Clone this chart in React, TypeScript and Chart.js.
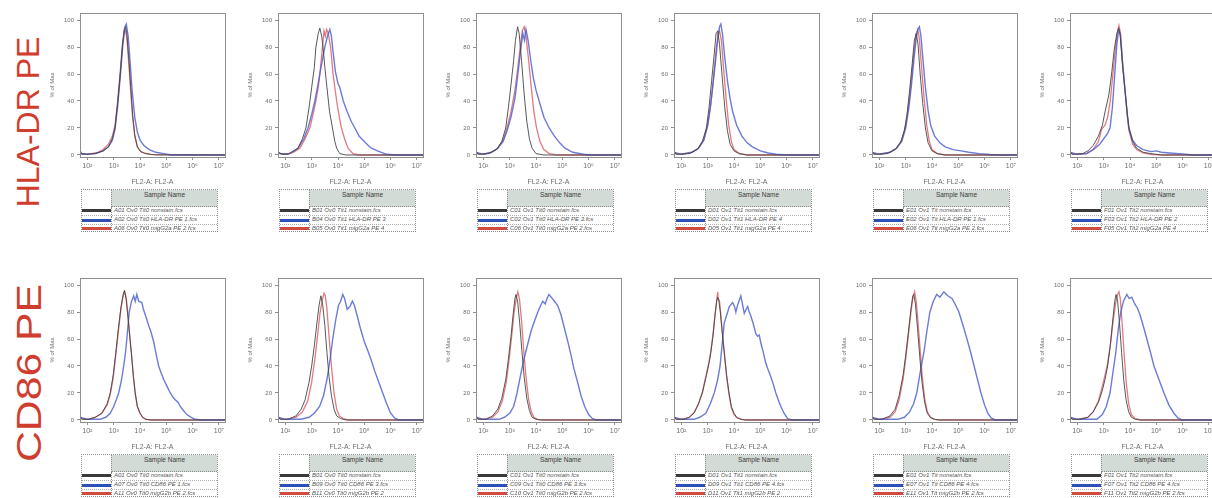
import React, { useEffect, useRef } from 'react';
import { Chart, registerables } from 'chart.js';
Chart.register(...registerables);

const FONT = '"Liberation Sans", Arial, sans-serif';
const X_TICKS = [2, 3, 4, 5, 6, 7];
const Y_TICKS = [0, 20, 40, 60, 80, 100];
const X_MIN = 1.72;
const X_MAX = 7.23;
const Y_MIN = -1.5;
const Y_MAX = 105.2;
const SUP: Record<number, string> = { 2: '²', 3: '³', 4: '⁴', 5: '⁵', 6: '⁶', 7: '⁷' };
const ROW_LABELS = ['HLA-DR PE', 'CD86 PE'];
const X_TITLE = 'FL2-A: FL2-A';
const Y_TITLE = '% of Max';
const HEADER = 'Sample Name';

// ---- HLA-DR row: [log10 FL2-A, % of Max] ----
const H1_NON = [[1.72,4],[1.78,1],[2.0,0.5],[2.3,1],[2.6,3],[2.8,6],[2.95,12],[3.05,20],[3.15,38],[3.25,60],[3.33,80],[3.4,93],[3.45,95],[3.5,90],[3.58,70],[3.65,50],[3.72,30],[3.8,15],[3.9,6],[4.0,3],[4.2,1],[4.6,0],[7.23,0]];
const H1_MAB = [[1.72,2],[1.8,0.5],[2.3,1],[2.6,3],[2.8,6],[2.95,11],[3.05,19],[3.15,36],[3.25,58],[3.35,82],[3.43,95],[3.48,97],[3.55,88],[3.62,70],[3.7,48],[3.8,28],[3.9,17],[4.0,11],[4.15,7],[4.35,4],[4.6,2],[4.9,1],[5.2,0],[7.23,0]];
const H1_ISO = [[1.72,1],[2.0,0.5],[2.4,2],[2.6,4],[2.8,8],[2.95,14],[3.05,22],[3.15,40],[3.25,62],[3.33,82],[3.4,92],[3.44,93],[3.5,87],[3.58,66],[3.65,46],[3.72,28],[3.8,14],[3.9,6],[4.05,2],[4.4,0.5],[7.23,0]];

const H2_NON = [[1.72,3],[1.8,1],[2.1,0.5],[2.48,5],[2.65,12],[2.78,20],[2.9,35],[3.0,50],[3.1,65],[3.16,80],[3.25,90],[3.31,94],[3.38,88],[3.43,80],[3.5,65],[3.58,50],[3.68,32],[3.79,20],[3.88,10],[3.95,5],[4.07,1],[4.3,0],[7.23,0]];
const H2_MAB = [[1.72,2],[1.9,0.5],[2.17,1],[2.48,5],[2.7,12],[2.86,20],[3.0,30],[3.12,40],[3.22,50],[3.31,60],[3.42,72],[3.5,80],[3.6,88],[3.69,93],[3.75,88],[3.82,75],[3.9,62],[4.0,53],[4.07,50],[4.2,40],[4.35,32],[4.5,25],[4.64,20],[4.8,14],[5.0,10],[5.15,7],[5.27,5],[5.5,3],[5.85,0.5],[6.2,0],[7.23,0]];
const H2_ISO = [[1.72,1],[2.0,0.5],[2.3,2],[2.55,5],[2.75,12],[2.93,20],[3.05,30],[3.16,40],[3.25,50],[3.31,60],[3.41,80],[3.47,92],[3.52,88],[3.57,93],[3.63,90],[3.72,80],[3.81,60],[3.95,40],[4.05,28],[4.13,20],[4.25,12],[4.38,5],[4.57,1],[4.8,0],[7.23,0]];

const H3_NON = [[1.72,3],[1.8,0.5],[2.2,1],[2.5,4],[2.7,10],[2.85,20],[2.95,35],[3.05,52],[3.15,70],[3.22,85],[3.3,95],[3.36,90],[3.45,70],[3.55,45],[3.65,25],[3.75,12],[3.85,5],[4.0,1],[4.3,0],[7.23,0]];
const H3_MAB = [[1.72,2],[2.0,0.5],[2.3,2],[2.55,5],[2.75,10],[2.9,18],[3.05,28],[3.2,42],[3.3,58],[3.4,75],[3.5,90],[3.56,85],[3.62,93],[3.7,85],[3.8,70],[3.9,57],[4.0,48],[4.15,38],[4.3,28],[4.5,20],[4.7,14],[4.9,9],[5.1,5],[5.4,2],[5.8,0.5],[6.1,0],[7.23,0]];
const H3_ISO = [[1.72,1],[2.0,0.5],[2.3,2],[2.55,5],[2.75,11],[2.9,20],[3.05,32],[3.2,48],[3.3,63],[3.4,80],[3.48,92],[3.55,95],[3.62,88],[3.72,70],[3.82,50],[3.92,32],[4.02,20],[4.15,10],[4.3,4],[4.5,1],[4.8,0],[7.23,0]];

const H4_NON = [[1.72,3],[1.8,0.5],[2.3,1],[2.6,4],[2.8,10],[2.95,20],[3.05,35],[3.15,55],[3.25,75],[3.32,90],[3.38,92],[3.45,82],[3.55,58],[3.65,35],[3.75,18],[3.85,8],[4.0,3],[4.2,1],[4.5,0],[7.23,0]];
const H4_MAB = [[1.72,2],[2.0,0.5],[2.4,2],[2.65,5],[2.85,11],[3.0,22],[3.1,35],[3.2,52],[3.3,70],[3.38,85],[3.45,95],[3.5,97],[3.56,90],[3.65,72],[3.75,55],[3.85,42],[3.95,32],[4.1,22],[4.3,14],[4.5,9],[4.7,6],[5.0,3],[5.3,1.5],[5.6,0.5],[6.0,0],[7.23,0]];
const H4_ISO = [[1.72,1],[2.0,0.5],[2.4,2],[2.65,5],[2.85,11],[3.0,22],[3.12,38],[3.22,57],[3.32,78],[3.4,90],[3.45,92],[3.52,85],[3.6,65],[3.7,42],[3.8,22],[3.9,10],[4.0,4],[4.2,1],[4.5,0],[7.23,0]];

const H5_NON = [[1.72,3],[1.8,0.5],[2.3,1],[2.6,4],[2.8,9],[2.95,18],[3.05,30],[3.15,48],[3.25,68],[3.33,85],[3.4,90],[3.47,82],[3.55,60],[3.65,38],[3.75,20],[3.85,9],[4.0,3],[4.2,1],[4.5,0],[7.23,0]];
const H5_MAB = [[1.72,2],[2.0,0.5],[2.4,2],[2.65,5],[2.85,10],[3.0,20],[3.12,35],[3.22,52],[3.32,72],[3.4,86],[3.46,93],[3.52,95],[3.58,88],[3.66,70],[3.75,50],[3.85,33],[3.95,22],[4.1,14],[4.3,9],[4.5,6],[4.8,4],[5.1,3],[5.4,2],[5.8,1],[6.2,0.3],[6.6,0],[7.23,0]];
const H5_ISO = [[1.72,1],[2.0,0.5],[2.4,2],[2.65,5],[2.85,11],[3.0,22],[3.12,38],[3.22,57],[3.32,78],[3.4,90],[3.46,93],[3.52,86],[3.6,66],[3.7,42],[3.8,22],[3.9,10],[4.0,4],[4.2,1],[4.5,0],[7.23,0]];

const H6_NON = [[1.72,3],[1.8,0.5],[2.2,1],[2.4,3],[2.6,7],[2.8,14],[2.95,22],[3.05,32],[3.11,37],[3.2,45],[3.3,60],[3.4,78],[3.5,90],[3.57,94],[3.63,88],[3.72,65],[3.81,48],[3.9,30],[3.96,20],[4.1,10],[4.25,5],[4.5,2],[4.8,1],[5.2,0],[7.23,0]];
const H6_MAB = [[1.72,2],[2.0,0.5],[2.35,1],[2.6,4],[2.85,8],[3.0,12],[3.15,16],[3.24,20],[3.33,35],[3.42,60],[3.5,82],[3.57,93],[3.63,90],[3.72,68],[3.81,48],[3.9,30],[3.96,20],[4.1,11],[4.25,7],[4.5,4],[4.8,2.5],[4.98,3],[5.2,2],[5.5,1.5],[6.0,0.8],[6.4,0],[7.23,0]];
const H6_ISO = [[1.72,1],[2.0,0.5],[2.35,1],[2.6,4],[2.8,10],[2.92,19],[3.05,22],[3.15,28],[3.25,40],[3.35,60],[3.45,80],[3.53,92],[3.58,96],[3.64,90],[3.72,68],[3.81,48],[3.9,28],[3.96,18],[4.1,8],[4.25,4],[4.5,1.5],[4.8,0.5],[5.2,0],[7.23,0]];

// ---- CD86 row ----
const C1_NON = [[1.72,3],[1.8,0.5],[2.05,0.5],[2.3,2],[2.55,5],[2.75,12],[2.87,20],[2.98,33],[3.08,50],[3.18,68],[3.28,84],[3.36,93],[3.41,96],[3.47,90],[3.55,75],[3.62,60],[3.67,50],[3.75,32],[3.82,20],[3.9,10],[4.0,5],[4.1,2],[4.2,0.5],[4.4,0],[7.23,0]];
const C1_MAB = [[1.72,2],[2.0,0.5],[2.48,0.5],[2.7,2],[2.87,5],[3.0,10],[3.1,15],[3.19,20],[3.3,30],[3.38,40],[3.45,50],[3.5,60],[3.59,80],[3.68,88],[3.76,92],[3.82,88],[3.88,93],[3.95,88],[4.07,87],[4.13,82],[4.2,78],[4.33,70],[4.42,65],[4.52,58],[4.62,48],[4.71,40],[4.8,35],[4.9,30],[5.0,26],[5.15,20],[5.25,17],[5.34,15],[5.45,13],[5.53,10],[5.65,7],[5.78,4],[5.95,2],[6.1,0.5],[6.3,0],[7.23,0]];
const C1_ISO = [[1.72,1],[2.0,0.5],[2.3,2],[2.55,5],[2.75,11],[2.87,19],[2.98,31],[3.08,48],[3.18,66],[3.28,83],[3.36,92],[3.42,95],[3.48,90],[3.55,76],[3.62,60],[3.68,48],[3.75,32],[3.82,19],[3.9,10],[4.0,5],[4.1,2],[4.25,0.5],[4.5,0],[7.23,0]];

const C2_NON = [[1.72,3],[1.8,0.5],[2.1,0.5],[2.4,3],[2.6,8],[2.75,15],[2.9,28],[3.0,40],[3.1,55],[3.2,72],[3.28,85],[3.35,92],[3.42,85],[3.5,70],[3.58,50],[3.66,32],[3.75,18],[3.85,8],[3.95,3],[4.1,1],[4.3,0],[7.23,0]];
const C2_MAB = [[1.72,2],[2.0,0.5],[2.6,0.5],[2.9,2],[3.1,5],[3.3,10],[3.45,18],[3.58,30],[3.7,45],[3.8,60],[3.92,75],[4.02,85],[4.1,88],[4.18,93],[4.25,90],[4.35,82],[4.45,84],[4.55,88],[4.62,85],[4.72,78],[4.85,68],[5.0,58],[5.12,52],[5.25,45],[5.4,36],[5.55,28],[5.7,20],[5.85,12],[6.0,5],[6.15,1.5],[6.3,0],[7.23,0]];
const C2_ISO = [[1.72,1],[2.0,0.5],[2.4,2],[2.65,6],[2.85,14],[3.0,28],[3.12,45],[3.22,62],[3.32,80],[3.42,90],[3.47,94],[3.52,92],[3.58,82],[3.66,62],[3.75,40],[3.85,20],[3.95,8],[4.05,3],[4.2,1],[4.4,0],[7.23,0]];

const C3_NON = [[1.72,3],[1.8,0.5],[2.1,0.5],[2.35,3],[2.55,8],[2.7,16],[2.85,30],[2.95,45],[3.05,62],[3.13,78],[3.2,90],[3.24,93],[3.3,88],[3.38,72],[3.46,52],[3.55,32],[3.65,16],[3.75,7],[3.85,2],[4.0,0.5],[4.2,0],[7.23,0]];
const C3_MAB = [[1.72,2],[2.0,0.5],[2.6,0.5],[2.8,2],[3.0,5],[3.15,10],[3.28,20],[3.4,32],[3.54,45],[3.67,55],[3.8,65],[3.92,72],[4.07,80],[4.18,85],[4.26,88],[4.35,86],[4.42,90],[4.49,93],[4.58,91],[4.7,88],[4.82,85],[4.95,78],[5.08,68],[5.21,58],[5.33,48],[5.44,38],[5.58,28],[5.71,18],[5.85,10],[6.0,4],[6.15,1],[6.3,0],[7.23,0]];
const C3_ISO = [[1.72,1],[2.0,0.5],[2.35,2],[2.55,6],[2.72,14],[2.87,28],[2.98,45],[3.08,63],[3.17,80],[3.25,90],[3.31,95],[3.37,90],[3.45,74],[3.53,52],[3.62,32],[3.72,15],[3.82,6],[3.92,2],[4.05,0.5],[4.3,0],[7.23,0]];

const C4_NON = [[1.72,3],[1.8,0.5],[2.1,0.5],[2.3,2],[2.48,5],[2.65,12],[2.8,20],[2.95,33],[3.05,42],[3.12,50],[3.2,62],[3.28,78],[3.34,88],[3.38,91],[3.42,89],[3.48,80],[3.55,65],[3.63,50],[3.72,33],[3.81,20],[3.9,10],[4.0,5],[4.1,2],[4.26,0.5],[4.4,0],[7.23,0]];
const C4_MAB = [[1.72,2],[2.0,0.5],[2.48,0.5],[2.7,2],[2.93,5],[3.1,12],[3.25,20],[3.38,30],[3.47,40],[3.57,60],[3.63,72],[3.76,80],[3.82,84],[3.95,87],[4.02,84],[4.07,80],[4.15,86],[4.26,92],[4.32,86],[4.39,79],[4.46,82],[4.52,84],[4.58,80],[4.64,77],[4.72,72],[4.83,64],[4.9,62],[4.96,63],[5.02,57],[5.09,52],[5.21,42],[5.3,37],[5.4,32],[5.5,26],[5.59,20],[5.68,15],[5.78,10],[5.9,5],[6.04,1],[6.2,0],[7.23,0]];
const C4_ISO = [[1.72,1],[2.0,0.5],[2.3,2],[2.5,6],[2.65,12],[2.8,21],[2.95,34],[3.05,43],[3.12,51],[3.2,63],[3.28,78],[3.34,88],[3.38,95],[3.4,90],[3.45,88],[3.5,78],[3.57,62],[3.63,50],[3.72,32],[3.81,19],[3.9,9],[4.0,4],[4.12,1.5],[4.3,0.5],[4.5,0],[7.23,0]];

const C5_NON = [[1.72,3],[1.8,0.5],[2.1,0.5],[2.4,3],[2.6,8],[2.75,18],[2.9,33],[3.0,48],[3.1,65],[3.2,82],[3.27,92],[3.31,93],[3.37,86],[3.45,68],[3.53,48],[3.62,28],[3.72,13],[3.82,5],[3.95,1.5],[4.1,0.5],[4.3,0],[7.23,0]];
const C5_MAB = [[1.72,2],[2.0,0.5],[2.7,0.5],[2.95,2],[3.15,6],[3.3,12],[3.42,20],[3.55,35],[3.69,50],[3.8,65],[3.92,80],[4.05,88],[4.18,93],[4.3,91],[4.45,95],[4.6,92],[4.76,90],[4.9,85],[5.02,80],[5.18,70],[5.33,60],[5.47,50],[5.6,40],[5.73,30],[5.86,20],[6.0,11],[6.12,5],[6.25,1.5],[6.4,0],[7.23,0]];
const C5_ISO = [[1.72,1],[2.0,0.5],[2.4,2],[2.6,6],[2.75,15],[2.9,30],[3.0,45],[3.1,62],[3.2,80],[3.28,91],[3.34,95],[3.4,88],[3.47,72],[3.55,52],[3.63,32],[3.72,16],[3.82,6],[3.95,2],[4.1,0.5],[4.3,0],[7.23,0]];

const C6_NON = [[1.72,3],[1.8,0.5],[2.1,0.5],[2.4,2],[2.6,6],[2.8,13],[2.95,22],[3.05,30],[3.15,40],[3.25,55],[3.35,75],[3.42,88],[3.47,93],[3.53,88],[3.6,72],[3.68,50],[3.76,30],[3.85,15],[3.95,6],[4.05,2],[4.2,0.5],[4.4,0],[7.23,0]];
const C6_MAB = [[1.72,2],[2.0,0.5],[2.74,0.5],[2.95,4],[3.1,10],[3.24,20],[3.35,35],[3.46,50],[3.56,68],[3.65,80],[3.75,88],[3.88,93],[3.97,90],[4.07,91],[4.18,86],[4.28,83],[4.38,78],[4.5,70],[4.64,60],[4.78,50],[4.91,40],[5.1,30],[5.29,20],[5.48,11],[5.67,5],[5.82,1.5],[5.97,0],[7.23,0]];
const C6_ISO = [[1.72,1],[2.0,0.5],[2.4,2],[2.6,6],[2.8,14],[2.95,25],[3.05,33],[3.15,42],[3.25,55],[3.35,72],[3.45,86],[3.53,93],[3.58,95],[3.63,90],[3.7,72],[3.78,48],[3.86,27],[3.95,12],[4.05,4],[4.2,1],[4.4,0],[7.23,0]];

// ---- legend sample names ----
const H1_NAMES = ['A01 Ov0 Tit0 nonstain.fcs', 'A02 Ov0 Tit0 HLA-DR PE 1.fcs', 'A06 Ov0 Tit0 migG2a PE 2.fcs'];
const H2_NAMES = ['B01 Ov0 Tit1 nonstain.fcs', 'B04 Ov0 Tit1 HLA-DR PE 3', 'B05 Ov0 Tit1 migG2a PE 4'];
const H3_NAMES = ['C01 Ov1 Tit0 nonstain.fcs', 'C02 Ov1 Tit0 HLA-DR PE 3.fcs', 'C06 Ov1 Tit0 migG2a PE 2.fcs'];
const H4_NAMES = ['D01 Ov1 Tit1 nonstain.fcs', 'D02 Ov1 Tit1 HLA-DR PE 4', 'D05 Ov1 Tit1 migG2a PE 4'];
const H5_NAMES = ['E01 Ov1 Tit nonstain.fcs', 'E02 Ov1 Tit HLA-DR PE 1.fcs', 'E06 Ov1 Tit migG2a PE 2.fcs'];
const H6_NAMES = ['F01 Ov1 Tit2 nonstain.fcs', 'F03 Ov1 Tit2 HLA-DR PE 2', 'F05 Ov1 Tit2 migG2a PE 4'];
const C1_NAMES = ['A01 Ov0 Tit0 nonstain.fcs', 'A07 Ov0 Tit0 CD86 PE 1.fcs', 'A11 Ov0 Tit0 migG2b PE 2.fcs'];
const C2_NAMES = ['B01 Ov0 Tit0 nonstain.fcs', 'B09 Ov0 Tit0 CD86 PE 3.fcs', 'B11 Ov0 Tit0 migG2b PE 2'];
const C3_NAMES = ['C01 Ov1 Tit0 nonstain.fcs', 'C09 Ov1 Tit0 CD86 PE 3.fcs', 'C10 Ov1 Tit0 migG2b PE 2.fcs'];
const C4_NAMES = ['D01 Ov1 Tit1 nonstain.fcs', 'D09 Ov1 Tit1 CD86 PE 4.fcs', 'D11 Ov1 Tit1 migG2b PE 2'];
const C5_NAMES = ['E01 Ov1 Tit nonstain.fcs', 'E07 Ov1 Tit CD86 PE 4.fcs', 'E11 Ov1 Tit migG2b PE 2.fcs'];
const C6_NAMES = ['F01 Ov1 Tit2 nonstain.fcs', 'F07 Ov1 Tit2 CD86 PE 4.fcs', 'F11 Ov1 Tit2 migG2b PE 2.fcs'];

const PANELS = [
  { row: 0, col: 0, series: [H1_NON, H1_MAB, H1_ISO], names: H1_NAMES },
  { row: 0, col: 1, series: [H2_NON, H2_MAB, H2_ISO], names: H2_NAMES },
  { row: 0, col: 2, series: [H3_NON, H3_MAB, H3_ISO], names: H3_NAMES },
  { row: 0, col: 3, series: [H4_NON, H4_MAB, H4_ISO], names: H4_NAMES },
  { row: 0, col: 4, series: [H5_NON, H5_MAB, H5_ISO], names: H5_NAMES },
  { row: 0, col: 5, series: [H6_NON, H6_MAB, H6_ISO], names: H6_NAMES },
  { row: 1, col: 0, series: [C1_NON, C1_MAB, C1_ISO], names: C1_NAMES },
  { row: 1, col: 1, series: [C2_NON, C2_MAB, C2_ISO], names: C2_NAMES },
  { row: 1, col: 2, series: [C3_NON, C3_MAB, C3_ISO], names: C3_NAMES },
  { row: 1, col: 3, series: [C4_NON, C4_MAB, C4_ISO], names: C4_NAMES },
  { row: 1, col: 4, series: [C5_NON, C5_MAB, C5_ISO], names: C5_NAMES },
  { row: 1, col: 5, series: [C6_NON, C6_MAB, C6_ISO], names: C6_NAMES },
];

// ---- layout & style ----
const COL_LEFT = [80, 278, 476, 674, 872, 1070];
const ROW_TOP = [13, 278];
const BOX_W = 145;
const BOX_H = 144;
const LINE_COLORS = ['rgba(70,70,70,0.9)', 'rgba(70,90,205,0.8)', 'rgba(215,85,95,0.78)'];
const LINE_WIDTHS = [1, 1.4, 1.3];
const SWATCH_COLORS = ['#3a3a3a', '#2c4fb8', '#d24a3e'];
const AXIS_COLOR = '#8f8f8f';
const TEXT_COLOR = '#6e6e6e';
const ROW_LABEL_STYLE = [
  { top: 122, fontSize: 32, scale: 1 },
  { top: 373, fontSize: 35, scale: 1.22 },
];

const boxPlugin = {
  id: 'box',
  afterDraw(chart: any) {
    const { ctx, chartArea: a } = chart;
    ctx.save();
    ctx.strokeStyle = AXIS_COLOR;
    ctx.lineWidth = 1;
    ctx.strokeRect(Math.round(a.left) + 0.5, Math.round(a.top) + 0.5, Math.round(a.right - a.left), Math.round(a.bottom - a.top));
    ctx.restore();
  },
};

const PAD_LEFT = 40;
const PAD_TOP = 8;
const CANVAS_W = 197;
const AXIS_H = 33;

function Panel({ left, top, series }: { left: number; top: number; series: number[][][] }) {
  const ref = useRef<HTMLCanvasElement>(null);
  useEffect(() => {
    const chart = new Chart(ref.current as HTMLCanvasElement, {
      type: 'line',
      data: {
        datasets: series.map((pts, i) => ({
          data: pts.map(([x, y]) => ({ x, y })),
          borderColor: LINE_COLORS[i],
          borderWidth: LINE_WIDTHS[i],
          pointRadius: 0,
          tension: 0,
          fill: false,
        })),
      },
      options: {
        animation: false,
        responsive: false,
        maintainAspectRatio: false,
        events: [],
        layout: { padding: { left: 0, right: CANVAS_W - PAD_LEFT - BOX_W, top: PAD_TOP, bottom: 0 } },
        plugins: { legend: { display: false }, tooltip: { enabled: false } },
        scales: {
          x: {
            type: 'linear',
            min: X_MIN,
            max: X_MAX,
            afterBuildTicks: (s: any) => { s.ticks = X_TICKS.map((v) => ({ value: v })); },
            afterFit: (s: any) => { s.height = AXIS_H; },
            ticks: {
              callback: (v: any) => '10' + SUP[v as number],
              font: { size: 7, family: FONT },
              color: TEXT_COLOR,
              padding: 2,
              maxRotation: 0,
              autoSkip: false,
            },
            grid: { drawOnChartArea: false, tickLength: 3, color: AXIS_COLOR },
            border: { color: AXIS_COLOR },
            title: { display: true, text: X_TITLE, font: { size: 7, family: FONT }, color: TEXT_COLOR, padding: { top: 0, bottom: 4 } },
          },
          y: {
            type: 'linear',
            min: Y_MIN,
            max: Y_MAX,
            afterBuildTicks: (s: any) => { s.ticks = Y_TICKS.map((v) => ({ value: v })); },
            afterFit: (s: any) => { s.width = PAD_LEFT; },
            ticks: { font: { size: 6, family: FONT }, color: TEXT_COLOR, padding: 3 },
            grid: { drawOnChartArea: false, tickLength: 3, color: AXIS_COLOR },
            border: { color: AXIS_COLOR },
            title: { display: true, text: Y_TITLE, font: { size: 6, family: FONT }, color: TEXT_COLOR, padding: { top: 9, bottom: 0 } },
          },
        },
      },
      plugins: [boxPlugin],
    } as any);
    return () => chart.destroy();
  }, [series]);
  const h = PAD_TOP + BOX_H + AXIS_H;
  return (
    <canvas
      ref={ref}
      width={CANVAS_W}
      height={h}
      style={{ position: 'absolute', left: left - PAD_LEFT, top: top - PAD_TOP, width: CANVAS_W, height: h }}
    />
  );
}

function Legend({ left, top, names }: { left: number; top: number; names: string[] }) {
  const W = 137, C0 = 29, HH = 17, RH = 8.4;
  const border = '1px dotted #8c8c8c';
  return (
    <div style={{ position: 'absolute', left, top, width: W, height: HH + 3 * RH + 1, border, boxSizing: 'border-box', fontFamily: FONT, background: '#fff' }}>
      <div style={{ position: 'absolute', left: C0, top: 0, right: 0, height: HH, background: '#d3dbd7', borderLeft: border, borderBottom: border, boxSizing: 'border-box', fontSize: 6.5, color: '#3c3c3c', textAlign: 'center', lineHeight: '9px' }}>{HEADER}</div>
      {names.map((t, i) => (
        <div key={i} style={{ position: 'absolute', left: 0, right: 0, top: HH + i * RH, height: RH, borderTop: i ? '1px dotted #b0b0b0' : 'none', boxSizing: 'border-box' }}>
          <div style={{ position: 'absolute', left: 0, width: C0, top: RH / 2 - 2, height: 3, background: SWATCH_COLORS[i] }} />
          <div style={{ position: 'absolute', left: C0, top: 0, bottom: 0, borderLeft: border }} />
          <div style={{ position: 'absolute', left: C0 + 3, top: -1, fontSize: 6, lineHeight: RH + 'px', fontStyle: 'italic', color: '#555', whiteSpace: 'nowrap' }}>{t}</div>
        </div>
      ))}
    </div>
  );
}

export default function App() {
  return (
    <div style={{ position: 'absolute', left: 0, top: 0, width: 1212, height: 498, background: '#fff', overflow: 'hidden' }}>
      {ROW_LABELS.map((t, r) => (
        <div key={t} style={{ position: 'absolute', left: 28, top: ROW_LABEL_STYLE[r].top, transform: `translate(-50%, -50%) rotate(-90deg) scaleX(${ROW_LABEL_STYLE[r].scale})`, whiteSpace: 'nowrap', fontFamily: FONT, fontSize: ROW_LABEL_STYLE[r].fontSize, color: '#d03c2e', lineHeight: 1 }}>{t}</div>
      ))}
      {PANELS.map((p, i) => {
        const left = COL_LEFT[p.col];
        const top = ROW_TOP[p.row];
        return (
          <React.Fragment key={i}>
            <Panel left={left} top={top} series={p.series} />
            <Legend left={left + 1} top={top + BOX_H + 32} names={p.names} />
          </React.Fragment>
        );
      })}
    </div>
  );
}
